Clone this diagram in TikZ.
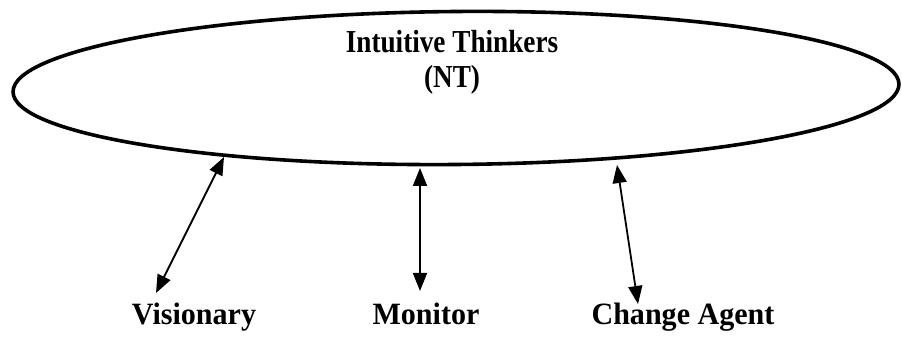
\documentclass[tikz,border=0pt]{standalone}
\usepackage{fontspec}
\setmainfont{Liberation Serif}
\usetikzlibrary{shapes.geometric,arrows.meta}
\begin{document}
\begin{tikzpicture}[x=1pt,y=1pt,
  oval/.style={draw, ellipse, line width=3.6pt, inner sep=0pt},
  title/.style={font=\fontsize{32}{32}\selectfont\bfseries, inner sep=0pt, anchor=base, xscale=0.85},
  label/.style={font=\fontsize{31}{31}\selectfont\bfseries, inner sep=0pt, anchor=base, xscale=0.97},
  link/.style={line width=1.8pt, {Triangle[length=18pt,width=14pt]}-{Triangle[length=18pt,width=14pt]}}]
\useasboundingbox (0,0) rectangle (902,337);
\node[oval, minimum width=886pt, minimum height=153pt, rotate=0.5] (E) at (456,249) {};
\node[title] (t1) at (452,284) {Intuitive Thinkers};
\node[title] (t2) at (452,249) {(NT)};
\node[label] (v) at (194,12) {Visionary};
\node[label] (m) at (426,12) {Monitor};
\node[label] (c) at (683,12) {Change Agent};
\coordinate (vt) at (224,180);
\coordinate (vb) at (156,44);
\coordinate (mt) at (420,169);
\coordinate (mb) at (420,46);
\coordinate (ct) at (617,172);
\coordinate (cb) at (638,33);
\draw[link] (vt) -- (vb);
\draw[link] (mt) -- (mb);
\draw[link] (ct) -- (cb);
\end{tikzpicture}
\end{document}
